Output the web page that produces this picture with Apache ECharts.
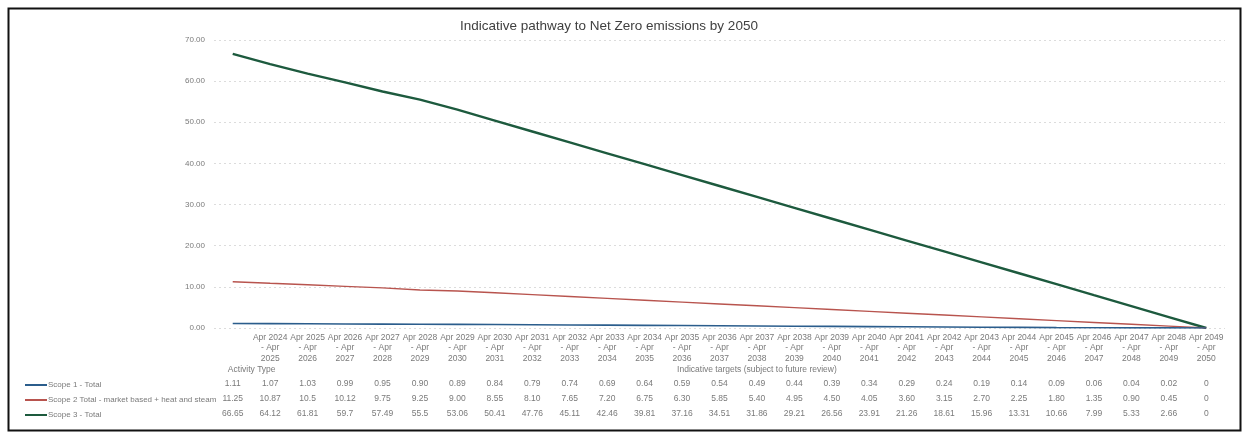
<!DOCTYPE html>
<html>
<head>
<meta charset="utf-8">
<script src="https://cdn.jsdelivr.net/npm/echarts@6/dist/echarts.min.js"></script>
<style>
html,body{margin:0;padding:0;background:#fff;}
#chart{width:1245px;height:434px;}
</style>
</head>
<body>
<div id="chart"></div>
<script>
// ---- data ----
const categories = ['', 'Apr 2024 - Apr 2025', 'Apr 2025 - Apr 2026', 'Apr 2026 - Apr 2027', 'Apr 2027 - Apr 2028',
  'Apr 2028 - Apr 2029', 'Apr 2029 - Apr 2030', 'Apr 2030 - Apr 2031', 'Apr 2031 - Apr 2032', 'Apr 2032 - Apr 2033',
  'Apr 2033 - Apr 2034', 'Apr 2034 - Apr 2035', 'Apr 2035 - Apr 2036', 'Apr 2036 - Apr 2037', 'Apr 2037 - Apr 2038',
  'Apr 2038 - Apr 2039', 'Apr 2039 - Apr 2040', 'Apr 2040 - Apr 2041', 'Apr 2041 - Apr 2042', 'Apr 2042 - Apr 2043',
  'Apr 2043 - Apr 2044', 'Apr 2044 - Apr 2045', 'Apr 2045 - Apr 2046', 'Apr 2046 - Apr 2047', 'Apr 2047 - Apr 2048',
  'Apr 2048 - Apr 2049', 'Apr 2049 - Apr 2050'];
const scope1 = ['1.11','1.07','1.03','0.99','0.95','0.90','0.89','0.84','0.79','0.74','0.69','0.64','0.59','0.54',
  '0.49','0.44','0.39','0.34','0.29','0.24','0.19','0.14','0.09','0.06','0.04','0.02','0'];
const scope2 = ['11.25','10.87','10.5','10.12','9.75','9.25','9.00','8.55','8.10','7.65','7.20','6.75','6.30','5.85',
  '5.40','4.95','4.50','4.05','3.60','3.15','2.70','2.25','1.80','1.35','0.90','0.45','0'];
const scope3 = ['66.65','64.12','61.81','59.7','57.49','55.5','53.06','50.41','47.76','45.11','42.46','39.81','37.16','34.51',
  '31.86','29.21','26.56','23.91','21.26','18.61','15.96','13.31','10.66','7.99','5.33','2.66','0'];
const seriesNames = ['Scope 1 - Total', 'Scope 2 Total - market based + heat and steam', 'Scope 3 - Total'];
const groupLabels = ['Activity Type', 'Indicative targets (subject to future review)'];
const groupIndex = [0, 14];
const yTicks = [0, 10, 20, 30, 40, 50, 60, 70];

// ---- chart ----
const FONT = 'Liberation Sans';
const TXT = '#7a7a7a';
const colors = ['#2b5d8c', '#b8544e', '#1d5a3e'];
const widths = [1.6, 1.4, 2.4];

const groupData = categories.map((c, i) => {
  const k = groupIndex.indexOf(i);
  if (k === 0) return { value: groupLabels[0], textStyle: { padding: [0, 0, 0, 38] } };
  if (k === 1) return { value: groupLabels[1] };
  return { value: ' '.repeat(i) };
});

function rowAxis(values, offset) {
  return {
    type: 'category', gridIndex: 0, position: 'bottom', offset: offset,
    data: values, boundaryGap: true,
    axisLine: { show: false }, axisTick: { show: false }, splitLine: { show: false },
    axisLabel: { interval: 0, margin: 0, fontSize: 8.5, lineHeight: 12, color: TXT, fontFamily: FONT }
  };
}

const chart = echarts.init(document.getElementById('chart'), null, { renderer: 'canvas' });
chart.setOption({
  backgroundColor: '#ffffff',
  animation: false,
  title: {
    text: 'Indicative pathway to Net Zero emissions by 2050',
    left: 455, top: 14,
    textStyle: { fontSize: 13.5, fontWeight: 'normal', color: '#404040', fontFamily: FONT }
  },
  legend: {
    orient: 'vertical', left: 20, top: 372.5, itemGap: 0,
    icon: 'rect', itemWidth: 22, itemHeight: 2,
    data: seriesNames,
    textStyle: { fontSize: 8, lineHeight: 15, color: TXT, fontFamily: FONT, padding: [0, 0, 0, -4] },
    selectedMode: false
  },
  grid: { left: 214, right: 20, top: 40, bottom: 106, containLabel: false },
  xAxis: [
    {
      type: 'category', data: categories, boundaryGap: true,
      axisLine: { show: false }, axisTick: { show: false },
      axisLabel: {
        interval: 0, margin: 4, fontSize: 8.5, lineHeight: 10.5, color: TXT, fontFamily: FONT,
        formatter: v => {
          if (!v) return '';
          const p = v.split(' - ');
          const q = p[1].split(' ');
          return p[0] + '\n- ' + q[0] + '\n' + q[1];
        }
      }
    },
    rowAxis(groupData, 36),
    rowAxis(scope1, 50),
    rowAxis(scope2, 65),
    rowAxis(scope3, 80)
  ],
  yAxis: {
    type: 'value', min: 0, max: 70, interval: 10,
    axisLine: { show: false }, axisTick: { show: false },
    axisLabel: { margin: 9, fontSize: 8, color: TXT, fontFamily: FONT,
      formatter: v => yTicks.indexOf(v) >= 0 ? v.toFixed(2) : '' },
    splitLine: { show: true, lineStyle: { color: '#dcdcdc', type: [2, 3], width: 1 } }
  },
  series: [scope1, scope2, scope3].map((d, i) => ({
    name: seriesNames[i], type: 'line', xAxisIndex: 0,
    data: d.map(Number), showSymbol: false, symbol: 'none',
    itemStyle: { color: colors[i] },
    lineStyle: { color: colors[i], width: widths[i] },
    z: 3 - i + 2
  })),
  graphic: [{
    type: 'rect', left: 6, top: 6, z: 100, silent: true,
    shape: { width: 1232, height: 422 },
    style: { fill: 'none', stroke: '#111', lineWidth: 2 }
  }]
});
</script>
</body>
</html>
